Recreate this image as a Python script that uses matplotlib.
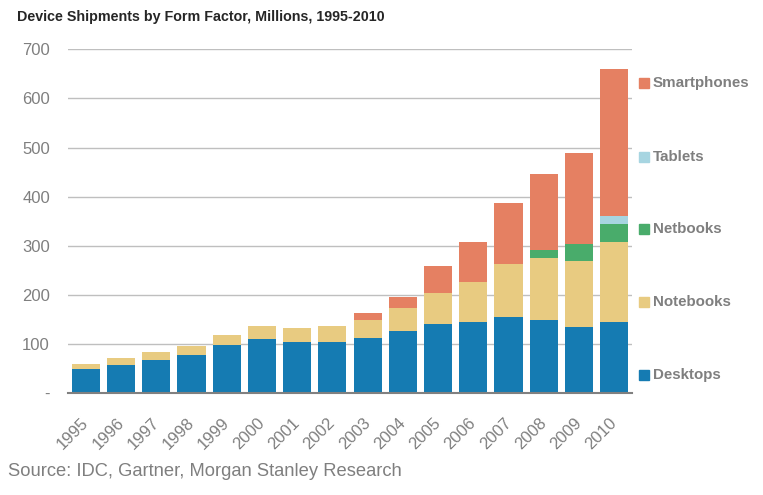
import matplotlib
matplotlib.use("Agg")
import matplotlib.pyplot as plt
import matplotlib.transforms as mtransforms
import numpy as np

plt.rcParams['font.family'] = ['Liberation Sans', 'DejaVu Sans']

years = ['1995', '1996', '1997', '1998', '1999', '2000', '2001', '2002',
         '2003', '2004', '2005', '2006', '2007', '2008', '2009', '2010']
desktops = [50, 58, 68, 78, 98, 111, 105, 105, 113, 127, 141, 145, 155, 149, 135, 145]
notebooks = [10, 14, 16, 18, 21, 26, 28, 32, 36, 47, 63, 82, 108, 126, 134, 163]
netbooks = [0, 0, 0, 0, 0, 0, 0, 0, 0, 0, 0, 0, 0, 16, 35, 37]
tablets = [0, 0, 0, 0, 0, 0, 0, 0, 0, 0, 0, 0, 0, 0, 0, 16]
smartphones = [0, 0, 0, 0, 0, 0, 0, 0, 14, 22, 55, 81, 124, 155, 185, 299]

series = ['Desktops', 'Notebooks', 'Netbooks', 'Tablets', 'Smartphones']
values = [desktops, notebooks, netbooks, tablets, smartphones]
colors = ['#157bb2', '#e8cb81', '#49ac6b', '#a7d5e1', '#e58062']

grey = '#7f7f7f'

fig = plt.figure(figsize=(7.63, 4.95), dpi=100)
ax = fig.add_axes([68/763, 1 - 393.3/495, (632-68)/763, (393.3-49.3)/495])

x = np.arange(len(years))
bottom = np.zeros(len(years))
for name, vals, c in zip(series, values, colors):
    ax.bar(x, vals, width=0.8, bottom=bottom, color=c, label=name, zorder=3)
    bottom += np.array(vals)

ax.set_xlim(-0.51, len(years) - 0.49)
ax.set_ylim(0, 700)
ax.set_yticks(range(0, 701, 100))
ax.set_yticklabels(['-'] + [str(v) for v in range(100, 701, 100)])
ax.yaxis.grid(True, color='#bfbfbf', linewidth=1, zorder=0)
ax.tick_params(axis='y', length=0, labelsize=12, labelcolor=grey, pad=13)
ax.set_xticks(x)
ax.set_xticklabels(years, rotation=45, ha='right', va='top', rotation_mode='anchor')
ax.tick_params(axis='x', length=0, labelsize=12, labelcolor=grey, pad=16)
# nudge rotated year labels a little to the left
shift = mtransforms.ScaledTranslation(-5/100, 0, fig.dpi_scale_trans)
for lbl in ax.get_xticklabels():
    lbl.set_transform(lbl.get_transform() + shift)
for s in ['top', 'right', 'left']:
    ax.spines[s].set_visible(False)
ax.spines['bottom'].set_color('#808080')
ax.spines['bottom'].set_linewidth(1.5)
ax.spines['bottom'].set_zorder(4)

# legend on the right, in stack order from top
legend_y = {'Smartphones': 83, 'Tablets': 157, 'Netbooks': 229, 'Notebooks': 302, 'Desktops': 375}
for name, c in zip(series, colors):
    yy = legend_y[name]
    fig.patches.append(plt.Rectangle((639/763, 1 - (yy + 5)/495), 10/763, 10/495,
                                     transform=fig.transFigure, color=c, figure=fig))
    fig.text(653/763, 1 - yy/495, name, fontsize=10.9, fontweight='bold',
             color=grey, va='center', ha='left')

fig.text(17/763, 1 - 17/495, 'Device Shipments by Form Factor, Millions, 1995-2010',
         fontsize=10.3, fontweight='bold', color='#262626', va='center', ha='left')
fig.text(8/763, 1 - 471/495, 'Source: IDC, Gartner, Morgan Stanley Research',
         fontsize=13.2, color=grey, va='center', ha='left')

plt.savefig('out.png', dpi=100)
plt.close()
